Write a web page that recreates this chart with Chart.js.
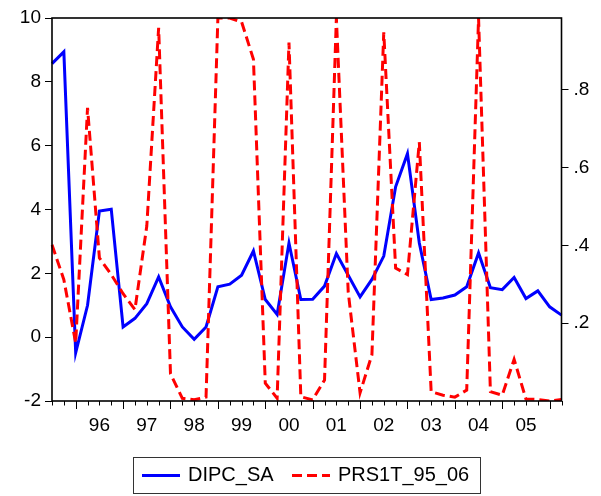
<!DOCTYPE html>
<html>
<head>
<meta charset="utf-8">
<script src="https://cdn.jsdelivr.net/npm/chart.js@4.4.1/dist/chart.umd.min.js"></script>
<style>
html,body{margin:0;padding:0;background:#fff;}
canvas{display:block;}
</style>
</head>
<body>
<canvas id="c" width="601" height="496"></canvas>
<script>
// Quarterly observations 1995Q3 .. 2006Q2
const quarters = [
  '1995Q3','1995Q4',
  '1996Q1','1996Q2','1996Q3','1996Q4',
  '1997Q1','1997Q2','1997Q3','1997Q4',
  '1998Q1','1998Q2','1998Q3','1998Q4',
  '1999Q1','1999Q2','1999Q3','1999Q4',
  '2000Q1','2000Q2','2000Q3','2000Q4',
  '2001Q1','2001Q2','2001Q3','2001Q4',
  '2002Q1','2002Q2','2002Q3','2002Q4',
  '2003Q1','2003Q2','2003Q3','2003Q4',
  '2004Q1','2004Q2','2004Q3','2004Q4',
  '2005Q1','2005Q2','2005Q3','2005Q4',
  '2006Q1','2006Q2'
];
const yearLabels = ['96','97','98','99','00','01','02','03','04','05'];
const leftTicks = [-2, 0, 2, 4, 6, 8, 10];
const rightTicks = [0.2, 0.4, 0.6, 0.8];

const dipcSA = [8.57, 8.94, -0.49, 1.00, 3.95, 4.01, 0.32, 0.59, 1.05, 1.89,
  0.95, 0.32, -0.07, 0.32, 1.58, 1.66, 1.94, 2.70, 1.18, 0.71,
  2.95, 1.18, 1.19, 1.60, 2.62, 1.94, 1.26, 1.81, 2.54, 4.71,
  5.75, 2.95, 1.18, 1.23, 1.32, 1.58, 2.64, 1.55, 1.49, 1.87,
  1.21, 1.45, 0.95, 0.69];
const prs1t = [0.402, 0.312, 0.149, 0.754, 0.368, 0.325, 0.276, 0.235, 0.45, 0.96,
  0.07, 0.007, 0.003, 0.010, 0.985, 0.985, 0.975, 0.879, 0.046, 0.007,
  0.922, 0.011, 0.003, 0.054, 0.985, 0.28, 0.021, 0.119, 0.948, 0.342,
  0.325, 0.666, 0.024, 0.015, 0.010, 0.028, 0.985, 0.024, 0.015, 0.107,
  0.005, 0.004, 0.000, 0.004];

const FONT = '"Liberation Sans", Arial, sans-serif';

const framePlugin = {
  id: 'frame',
  afterDraw(chart) {
    const ctx = chart.ctx;
    const a = chart.chartArea;
    const xs = chart.scales.x;
    ctx.save();
    // x tick marks
    ctx.strokeStyle = '#000';
    ctx.lineWidth = 1;
    for (let i = 0; i < quarters.length; i++) {
      const x = Math.round(xs.getPixelForValue(i)) + 0.5;
      const len = quarters[i].endsWith('Q1') ? 8 : 4.5;
      ctx.beginPath();
      ctx.moveTo(x, a.bottom);
      ctx.lineTo(x, a.bottom + len);
      ctx.stroke();
    }
    // frame
    ctx.lineWidth = 1.6;
    ctx.strokeRect(a.left, a.top, a.right - a.left, a.bottom - a.top);
    // legend
    const lx = 133.5, ly = 457.5, lw = 347, lh = 36;
    ctx.lineWidth = 1;
    ctx.strokeStyle = '#333';
    ctx.strokeRect(lx, ly, lw, lh);
    const cy = 475.5;
    ctx.lineWidth = 3;
    ctx.strokeStyle = '#0000FF';
    ctx.beginPath(); ctx.moveTo(142, cy); ctx.lineTo(180, cy); ctx.stroke();
    ctx.strokeStyle = '#FF0000';
    ctx.setLineDash([10, 5]);
    ctx.beginPath(); ctx.moveTo(292, cy); ctx.lineTo(330, cy); ctx.stroke();
    ctx.setLineDash([]);
    ctx.fillStyle = '#000';
    ctx.font = '20px ' + FONT;
    ctx.textBaseline = 'middle';
    ctx.textAlign = 'left';
    ctx.fillText(chart.data.datasets[0].label, 188, cy);
    ctx.fillText(chart.data.datasets[1].label, 338, cy);
    ctx.restore();
  }
};

new Chart(document.getElementById('c'), {
  type: 'line',
  data: {
    labels: quarters,
    datasets: [
      {
        label: 'DIPC_SA',
        data: dipcSA,
        yAxisID: 'y',
        borderColor: '#0000FF',
        borderWidth: 3,
        pointRadius: 0,
        tension: 0,
        fill: false,
        order: 1
      },
      {
        label: 'PRS1T_95_06',
        data: prs1t,
        yAxisID: 'y1',
        borderColor: '#FF0000',
        borderWidth: 3,
        borderDash: [10, 5],
        pointRadius: 0,
        tension: 0,
        fill: false,
        order: 0
      }
    ]
  },
  options: {
    responsive: false,
    devicePixelRatio: 1,
    animation: false,
    layout: { padding: { top: 18, left: 0, right: 0, bottom: 0 } },
    plugins: { legend: { display: false }, tooltip: { enabled: false } },
    scales: {
      x: {
        type: 'category',
        offset: false,
        border: { display: false },
        grid: { display: true, drawOnChartArea: false, drawTicks: true, tickLength: 8, tickColor: 'rgba(0,0,0,0)', color: 'rgba(0,0,0,0)' },
        ticks: {
          autoSkip: false,
          maxRotation: 0,
          minRotation: 0,
          padding: 5,
          color: '#000',
          font: { family: FONT, size: 19 },
          callback: function (v, i) {
            const q = quarters[i];
            if (q && q.endsWith('Q3')) {
              const yy = q.slice(2, 4);
              return yearLabels.includes(yy) ? yy : '';
            }
            return '';
          }
        },
        afterFit: function (s) { s.height = 95; }
      },
      y: {
        position: 'left',
        min: -2,
        max: 10,
        border: { display: false },
        grid: { display: true, drawOnChartArea: false, drawTicks: true, tickLength: 7, tickColor: '#000', lineWidth: 1 },
        afterBuildTicks: function (s) { s.ticks = leftTicks.map(v => ({ value: v })); },
        ticks: {
          padding: 4,
          color: '#000',
          font: { family: FONT, size: 19 },
          callback: v => String(v)
        },
        afterFit: function (s) { s.width = 52; }
      },
      y1: {
        position: 'right',
        min: 0,
        max: 0.985,
        border: { display: false },
        grid: { display: true, drawOnChartArea: false, drawTicks: true, tickLength: 7, tickColor: '#000', lineWidth: 1 },
        afterBuildTicks: function (s) { s.ticks = rightTicks.map(v => ({ value: v })); },
        ticks: {
          padding: 5,
          color: '#000',
          font: { family: FONT, size: 19 },
          callback: v => Number(v).toFixed(1).replace(/^0/, '')
        },
        afterFit: function (s) { s.width = 39.5; }
      }
    }
  },
  plugins: [framePlugin]
});
</script>
</body>
</html>
